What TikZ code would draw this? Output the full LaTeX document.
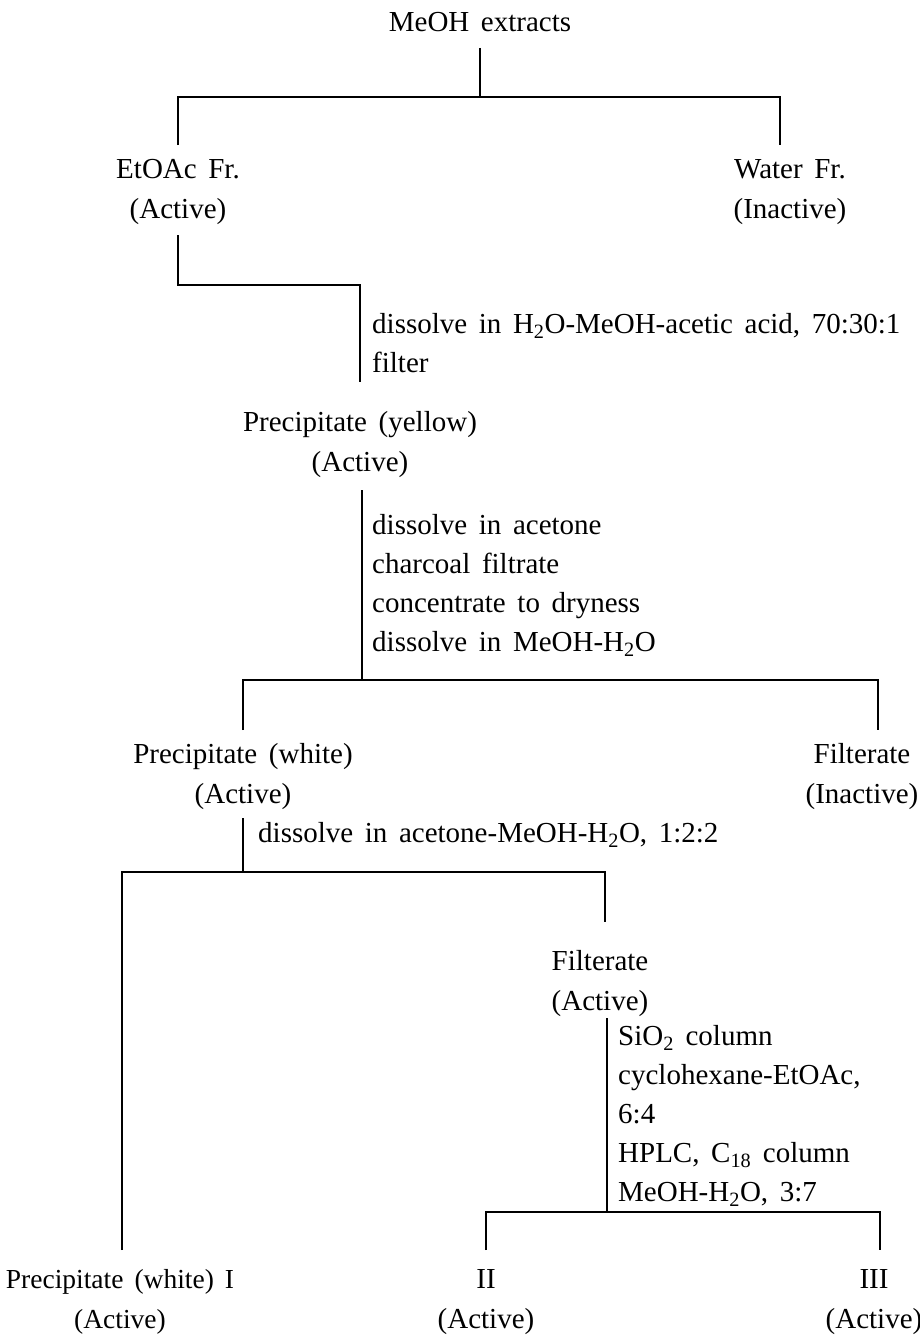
\documentclass[tikz,border=0pt]{standalone}
\usepackage{fontspec}
\setmainfont[WordSpace=1.6]{Liberation Serif}
\newcommand\subs[1]{\textsubscript{#1}}
\begin{document}
\begin{tikzpicture}[x=1pt,y=-1pt,
  lbl/.style={inner sep=0pt,align=center,font=\fontsize{29}{40}\selectfont},
  note/.style={inner sep=0pt,align=left,anchor=west,font=\fontsize{29}{39}\selectfont},
  ln/.style={line width=1.4pt}]
\useasboundingbox[fill=white] (0,0) rectangle (920,1338);
% nodes
\node[lbl] (meoh) at (480,22) {MeOH extracts};
\node[lbl] (etoac) at (178,192) {EtOAc Fr.\\(Active)};
\node[lbl] (water) at (790,192) {Water Fr.\\(Inactive)};
\node[note] (n1) at (372,343) {dissolve in H\subs{2}O-MeOH-acetic acid, 70:30:1\\filter};
\node[lbl] (pyel) at (360,445) {Precipitate (yellow)\\(Active)};
\node[note] (n2) at (372,585) {dissolve in acetone\\charcoal filtrate\\concentrate to dryness\\dissolve in MeOH-H\subs{2}O};
\node[lbl] (pwh) at (243,777) {Precipitate (white)\\(Active)};
\node[lbl] (filt1) at (862,777) {Filterate\\(Inactive)};
\node[note] (n3) at (258,835) {dissolve in acetone-MeOH-H\subs{2}O, 1:2:2};
\node[lbl] (filt2) at (600,984) {Filterate\\(Active)};
\node[note] (n4) at (618,1116) {SiO\subs{2} column\\cyclohexane-EtOAc,\\6:4\\HPLC, C\subs{18} column\\MeOH-H\subs{2}O, 3:7};
\node[lbl,font=\fontsize{27.5}{40}\selectfont] (p1) at (120,1302) {Precipitate (white) I\\(Active)};
\node[lbl] (p2) at (486,1302) {II\\(Active)};
\node[lbl] (p3) at (874,1302) {III\\(Active)};
% junction coordinates
\coordinate (a0) at (480,48);
\coordinate (a1) at (480,97);
\coordinate (aL) at (178,97);
\coordinate (aR) at (780,97);
\coordinate (aLb) at (178,145);
\coordinate (aRb) at (780,145);
\coordinate (b0) at (178,235);
\coordinate (b1) at (178,285);
\coordinate (b2) at (360,285);
\coordinate (b3) at (360,382);
\coordinate (c0) at (362,490);
\coordinate (c1) at (362,680);
\coordinate (cL) at (243,680);
\coordinate (cR) at (878,680);
\coordinate (cLb) at (243,730);
\coordinate (cRb) at (878,730);
\coordinate (d0) at (243,818);
\coordinate (d1) at (243,872);
\coordinate (dL) at (122,872);
\coordinate (dR) at (605,872);
\coordinate (dLb) at (122,1250);
\coordinate (dRb) at (605,922);
\coordinate (e0) at (607,1018);
\coordinate (e1) at (607,1212);
\coordinate (eL) at (486,1212);
\coordinate (eR) at (880,1212);
\coordinate (eLb) at (486,1250);
\coordinate (eRb) at (880,1250);
% connectors
\draw[ln] (a0) -- (a1);
\draw[ln] (aLb) -- (aL) -- (aR) -- (aRb);
\draw[ln] (b0) -- (b1) -- (b2) -- (b3);
\draw[ln] (c0) -- (c1);
\draw[ln] (cLb) -- (cL) -- (cR) -- (cRb);
\draw[ln] (d0) -- (d1);
\draw[ln] (dLb) -- (dL) -- (dR) -- (dRb);
\draw[ln] (e0) -- (e1);
\draw[ln] (eLb) -- (eL) -- (eR) -- (eRb);
\end{tikzpicture}
\end{document}
